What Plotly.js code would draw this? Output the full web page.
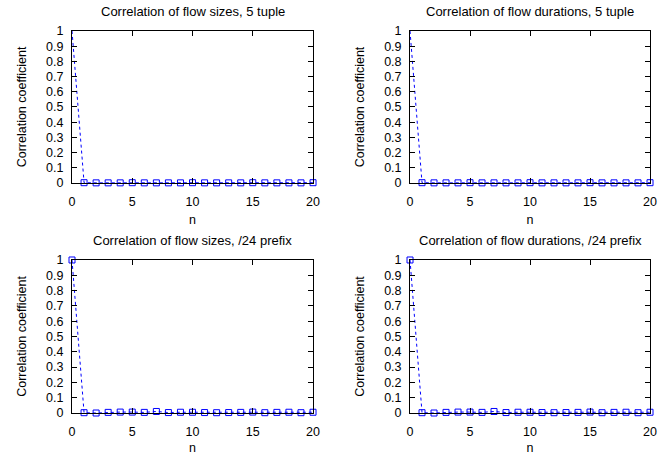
<!DOCTYPE html>
<html>
<head>
<meta charset="utf-8">
<script src="https://cdn.plot.ly/plotly-3.0.1.min.js"></script>
<style>html,body{margin:0;padding:0;background:#fff;}#chart{width:668px;height:455px;}</style>
</head>
<body>
<div id="chart"></div>
<script>
// Data
const lags = [0,1,2,3,4,5,6,7,8,9,10,11,12,13,14,15,16,17,18,19,20];
const sizes5tuple     = [1,0.002,0.001,0.001,0.001,0.002,0.001,0.001,0.001,0.001,0.002,0.001,0.001,0.001,0.001,0.002,0.001,0.001,0.001,0.001,0.002];
const durations5tuple = [1,0.002,0.001,0.001,0.001,0.002,0.001,0.001,0.001,0.001,0.002,0.001,0.001,0.001,0.001,0.002,0.001,0.001,0.001,0.001,0.002];
const sizesPrefix     = [1,0.002,0.0,0.004,0.006,0.006,0.004,0.01,0.003,0.005,0.005,0.003,0.002,0.003,0.004,0.006,0.002,0.004,0.005,0.002,0.005];
const durationsPrefix = [1,0.002,0.0,0.004,0.006,0.006,0.004,0.01,0.003,0.005,0.005,0.003,0.002,0.003,0.004,0.006,0.002,0.004,0.005,0.002,0.005];
const panelTitles = [
  "Correlation of flow sizes, 5 tuple",
  "Correlation of flow durations, 5 tuple",
  "Correlation of flow sizes, /24 prefix",
  "Correlation of flow durations, /24 prefix"
];
const xTickVals = [0,5,10,15,20];
const yTickVals = [0,0.1,0.2,0.3,0.4,0.5,0.6,0.7,0.8,0.9,1];
const yTickText = ["0","0.1","0.2","0.3","0.4","0.5","0.6","0.7","0.8","0.9","1"];
const xLabel = "n";
const yLabel = "Correlation coefficient";

const series = [sizes5tuple, durations5tuple, sizesPrefix, durationsPrefix];
const FAMILY = "Liberation Sans, Arial, sans-serif";
const FONT = {family: FAMILY, size: 12.5, color: "#000"};
const TFONT = {family: FAMILY, size: 13, color: "#000"};

const xDomains = [[0.1078, 0.4686], [0.6138, 0.9731]];
const yDomains = [[0.5978, 0.9319], [0.0923, 0.4286]];

const traces = [];
const layout = {
  width: 668, height: 455,
  margin: {l: 0, r: 0, t: 0, b: 0},
  paper_bgcolor: "#fff", plot_bgcolor: "#fff",
  showlegend: false,
  font: FONT,
  annotations: []
};

series.forEach((ys, i) => {
  const row = Math.floor(i / 2), col = i % 2;
  const k = i + 1;
  const xa = "x" + (k === 1 ? "" : k), ya = "y" + (k === 1 ? "" : k);
  // top row: first marker hidden (drawn on the plot corner)
  const opac = lags.map((v, j) => (row === 0 && j === 0) ? 0 : 1);
  traces.push({
    x: lags, y: ys, xaxis: xa, yaxis: ya,
    type: "scatter", mode: "lines+markers",
    line: {color: "#0000ff", width: 1, dash: "dot"},
    marker: {symbol: "square-open", size: 6, color: "#0000ff", opacity: opac, line: {width: 1, color: "#0000ff"}},
    cliponaxis: false
  });
  const axBase = {
    showline: true, linecolor: "#000", linewidth: 1, mirror: "allticks",
    ticks: "inside", ticklen: 5, tickcolor: "#000", tickwidth: 1,
    showgrid: false, zeroline: false, tickfont: FONT, fixedrange: true
  };
  layout["xaxis" + (k === 1 ? "" : k)] = Object.assign({}, axBase, {
    domain: xDomains[col], anchor: ya, range: [0, 20],
    tickmode: "array", tickvals: xTickVals, ticktext: xTickVals.map(String),
    ticklabelstandoff: 7,
    title: {text: xLabel, font: FONT, standoff: 7}
  });
  layout["yaxis" + (k === 1 ? "" : k)] = Object.assign({}, axBase, {
    domain: yDomains[row], anchor: xa, range: [0, 1],
    tickmode: "array", tickvals: yTickVals, ticktext: yTickText,
    ticklabelstandoff: 5,
    title: {text: yLabel, font: FONT, standoff: 16}
  });
  layout.annotations.push({
    text: panelTitles[i], xref: "paper", yref: "paper",
    x: (xDomains[col][0] + xDomains[col][1]) / 2,
    y: yDomains[row][1] + 19 / 455,
    xanchor: "center", yanchor: "middle", showarrow: false, font: TFONT
  });
});

Plotly.newPlot("chart", traces, layout, {displayModeBar: false, staticPlot: true});
</script>
</body>
</html>
